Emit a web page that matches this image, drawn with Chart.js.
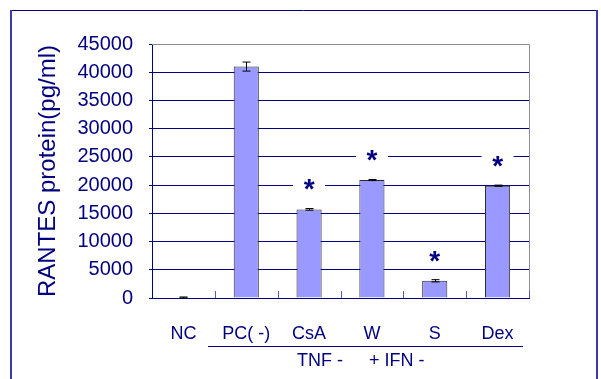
<!DOCTYPE html>
<html>
<head>
<meta charset="utf-8">
<script src="https://cdn.jsdelivr.net/npm/chart.js@4"></script>
<style>
  html, body { margin: 0; padding: 0; background: #fff; }
  #wrap { width: 601px; height: 379px; }
</style>
</head>
<body>
<div id="wrap"><canvas id="chart" width="601" height="379"></canvas></div>
<script>
// données
const categories  = ['NC', 'PC( -)', 'CsA', 'W', 'S', 'Dex'];
const rantes      = [100, 41000, 15700, 20900, 3050, 19900];
const errors      = [80, 800, 150, 100, 200, 100];
const significant = [false, false, true, true, true, true];
const yTicks      = [0, 5000, 10000, 15000, 20000, 25000, 30000, 35000, 40000, 45000];
const groupLeft   = 'TNF -';
const groupRight  = '+ IFN -';

const navy = '#000080';
const font = 'Liberation Sans, Arial, sans-serif';

// cadre, barres d'erreur, étoiles et légende du groupe
const extras = {
  id: 'extras',
  beforeDraw(chart) {
    const ctx = chart.ctx;
    ctx.save();
    ctx.fillStyle = '#fff';
    ctx.fillRect(0, 0, chart.width, chart.height);
    ctx.strokeStyle = navy;
    ctx.lineWidth = 1;
    ctx.beginPath();
    ctx.moveTo(10, 10.5); ctx.lineTo(597, 10.5);
    ctx.stroke();
    ctx.strokeStyle = '#3a3aa8';
    ctx.lineWidth = 2;
    ctx.beginPath();
    ctx.moveTo(11, 10); ctx.lineTo(11, chart.height);
    ctx.moveTo(597, 10); ctx.lineTo(597, chart.height);
    ctx.stroke();
    ctx.restore();
  },
  afterDatasetsDraw(chart) {
    const ctx = chart.ctx;
    const x = chart.scales.x, y = chart.scales.y;
    const area = chart.chartArea;
    ctx.save();

    // bord droit/haut gris
    ctx.strokeStyle = '#8a8a9a';
    ctx.lineWidth = 1;
    ctx.beginPath();
    ctx.moveTo(area.left, area.top + 0.5); ctx.lineTo(area.right + 0.5, area.top + 0.5);
    ctx.lineTo(area.right + 0.5, area.bottom);
    ctx.stroke();

    // petites graduations vers l'intérieur sur l'axe x
    ctx.strokeStyle = '#5a5ab0';
    ctx.beginPath();
    categories.forEach((_, i) => {
      const px = Math.round(x.getPixelForValue(i + 0.5)) + 0.5;
      ctx.moveTo(px, area.bottom); ctx.lineTo(px, area.bottom - 7);
    });
    ctx.stroke();

    // barres d'erreur
    ctx.strokeStyle = '#000';
    ctx.lineWidth = 1;
    rantes.forEach((v, i) => {
      const px = Math.round(x.getPixelForValue(i)) + 0.5;
      const hi = y.getPixelForValue(v + errors[i]);
      const lo = y.getPixelForValue(v - errors[i]);
      ctx.beginPath();
      ctx.moveTo(px, hi); ctx.lineTo(px, lo);
      ctx.moveTo(px - 4, hi); ctx.lineTo(px + 4, hi);
      ctx.moveTo(px - 4, lo); ctx.lineTo(px + 4, lo);
      ctx.stroke();
    });

    // étoiles de significativité
    ctx.font = 'bold 28px ' + font;
    ctx.textAlign = 'center';
    ctx.textBaseline = 'alphabetic';
    rantes.forEach((v, i) => {
      if (!significant[i]) return;
      const px = x.getPixelForValue(i);
      const cy = y.getPixelForValue(v) - 23;
      ctx.fillStyle = '#fff';
      ctx.fillRect(px - 16, cy - 8, 32, 16);
      ctx.fillStyle = navy;
      ctx.fillText('*', px, cy + 12);
    });

    // trait et texte du groupe TNF / IFN
    ctx.strokeStyle = navy;
    ctx.beginPath();
    ctx.moveTo(208, 346.5); ctx.lineTo(523, 346.5);
    ctx.stroke();
    ctx.fillStyle = navy;
    ctx.font = '18px ' + font;
    ctx.textAlign = 'left';
    ctx.textBaseline = 'middle';
    ctx.fillText(groupLeft, 297, 361);
    ctx.fillText(groupRight, 369, 361);

    ctx.restore();
  }
};

new Chart(document.getElementById('chart'), {
  type: 'bar',
  data: {
    labels: categories,
    datasets: [{
      data: rantes,
      backgroundColor: '#9999ff',
      borderColor: '#2a2a2a',
      borderWidth: 1,
      barPercentage: 0.4,
      categoryPercentage: 1.0
    }]
  },
  options: {
    responsive: false,
    animation: false,
    devicePixelRatio: 1,
    layout: { padding: { top: 44, right: 72, left: 0, bottom: 0 } },
    plugins: { legend: { display: false }, tooltip: { enabled: false } },
    scales: {
      x: {
        afterFit: s => { s.height = 81; },
        grid: { display: false, drawTicks: false },
        border: { display: true, color: navy, width: 1 },
        ticks: { color: navy, font: { family: font, size: 18 }, padding: 25, maxRotation: 0 }
      },
      y: {
        min: 0,
        max: 45000,
        afterFit: s => { s.width = 152; },
        afterBuildTicks: s => { s.ticks = yTicks.map(v => ({ value: v })); },
        grid: { color: navy, lineWidth: 1, tickLength: 3 },
        border: { display: true, color: navy, width: 1 },
        ticks: { color: navy, font: { family: font, size: 20 }, padding: 16, callback: v => String(v) },
        title: {
          display: true,
          text: 'RANTES protein(pg/ml)',
          color: navy,
          font: { family: font, size: 24 },
          padding: { top: 34, bottom: 0 }
        }
      }
    }
  },
  plugins: [extras]
});
</script>
</body>
</html>
